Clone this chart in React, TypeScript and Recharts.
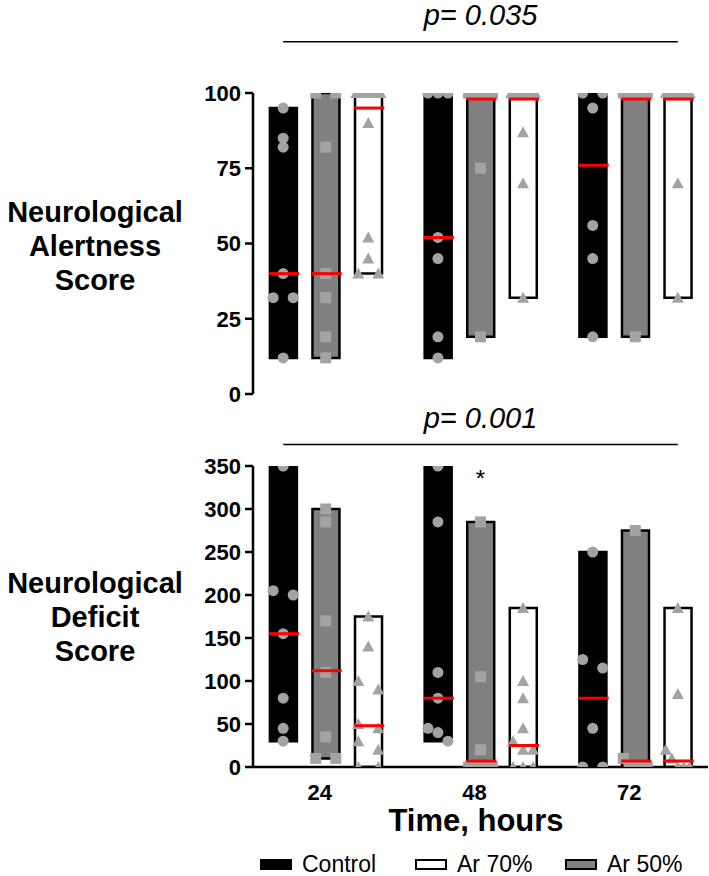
import {
  Bar,
  Cell,
  ComposedChart,
  ReferenceDot,
  ReferenceLine,
  Scatter,
  XAxis,
  YAxis,
} from 'recharts';

const hours = ['24', '48', '72'];
const groupNames = ['Control', 'Ar 50%', 'Ar 70%'];

// Neurological Alertness Score: individual animals per time point
const alertControl = [
  [95, 85, 82, 40, 32, 32, 12],
  [100, 100, 100, 52, 45, 19, 12],
  [100, 100, 95, 56, 45, 19],
];
const alertAr50 = [
  [100, 100, 82, 40, 32, 19, 12],
  [100, 100, 100, 100, 100, 75, 19],
  [100, 100, 100, 100, 100, 19],
];
const alertAr70 = [
  [100, 100, 100, 100, 100, 90, 52, 45, 40, 40],
  [100, 100, 100, 100, 100, 87, 70, 32],
  [100, 100, 100, 100, 100, 70, 32],
];
const alertMedControl = [40, 52, 76];
const alertMedAr50 = [40, 98, 98];
const alertMedAr70 = [95, 98, 98];
const alertTicks = [0, 25, 50, 75, 100];

// Neurological Deficit Score
const deficitControl = [
  [350, 205, 200, 155, 80, 45, 30],
  [350, 285, 110, 80, 45, 40, 30],
  [250, 125, 115, 45, 0, 0],
];
const deficitAr50 = [
  [300, 285, 170, 110, 35, 10, 10],
  [285, 105, 20, 0, 0, 0, 0],
  [275, 10, 0, 0, 0, 0],
];
const deficitAr70 = [
  [175, 140, 100, 90, 50, 45, 30, 20, 0, 0],
  [185, 100, 80, 45, 30, 20, 20, 0, 0, 0],
  [185, 85, 20, 10, 0, 0, 0],
];
const deficitMedControl = [155, 80, 80];
const deficitMedAr50 = [112, 7, 7];
const deficitMedAr70 = [48, 25, 7];
const deficitTicks = [0, 50, 100, 150, 200, 250, 300, 350];

const FONT = '"Liberation Sans", Arial, Helvetica, sans-serif';
const POINT = '#a3a3a3';
const GROUP_FILL = ['#000000', '#808080', '#ffffff'];
const GROUP_SHIFT = [-0.275, 0, 0.275];
const X_DOMAIN: [number, number] = [-0.47, 2.47];
const PLOT_H = 301;

// spread points that would overlap across the bar width, like a prism scatter
function spreadPoints(values: number[], pxPerUnit: number) {
  const sorted = [...values].sort((a, b) => b - a);
  const clusters: number[][] = [];
  sorted.forEach((v) => {
    const last = clusters[clusters.length - 1];
    if (last && (last[last.length - 1] - v) * pxPerUnit < 8.8) last.push(v);
    else clusters.push([v]);
  });
  const out: { y: number; dx: number }[] = [];
  clusters.forEach((c) => {
    const n = c.length;
    const half = n === 1 ? 0 : n <= 3 ? 10 : 12;
    c.forEach((v, k) => {
      out.push({ y: v, dx: n === 1 ? 0 : -half + (2 * half * k) / (n - 1) });
    });
  });
  return out;
}

function Dot(props: any) {
  const { cx, cy, payload } = props;
  if (cx == null || cy == null) return null;
  return <circle cx={cx + payload.dx} cy={cy} r={5.5} fill={POINT} />;
}

function Square(props: any) {
  const { cx, cy, payload } = props;
  if (cx == null || cy == null) return null;
  return <rect x={cx + payload.dx - 5.5} y={cy - 5.5} width={11} height={11} fill={POINT} />;
}

function Triangle(props: any) {
  const { cx, cy, payload } = props;
  if (cx == null || cy == null) return null;
  const x = cx + payload.dx;
  return <polygon points={`${x - 6},${cy + 5} ${x + 6},${cy + 5} ${x},${cy - 6}`} fill={POINT} />;
}

function MedianLine(props: any) {
  const { cx, cy } = props;
  if (cx == null || cy == null) return null;
  return <line x1={cx - 14} x2={cx + 16} y1={cy} y2={cy} stroke="#ff0000" strokeWidth={3} />;
}

const shapes = [Dot, Square, Triangle];

const tickStyle = { fontSize: 22, fontWeight: 700, fill: '#000', fontFamily: FONT };

function ScorePanel({
  series,
  medians,
  yMax,
  ticks,
  pText,
  pLevel,
  showX,
  marginTop,
  marginBottom,
  height,
  star,
}: {
  series: number[][][];
  medians: number[][];
  yMax: number;
  ticks: number[];
  pText: string;
  pLevel: number;
  showX: boolean;
  marginTop: number;
  marginBottom: number;
  height: number;
  star?: { x: number; y: number };
}) {
  const pxPerUnit = PLOT_H / yMax;
  const bars: { x: number; range: [number, number]; g: number }[] = [];
  hours.forEach((_, i) => {
    series.forEach((groupVals, g) => {
      const vals = groupVals[i];
      bars.push({ x: i + GROUP_SHIFT[g], range: [Math.min(...vals), Math.max(...vals)], g });
    });
  });
  const points = series.map((groupVals, g) =>
    groupVals.flatMap((vals, i) =>
      spreadPoints(vals, pxPerUnit).map((p) => ({ x: i + GROUP_SHIFT[g], y: p.y, dx: p.dx })),
    ),
  );
  const medianData = medians.flatMap((m, g) => m.map((v, i) => ({ x: i + GROUP_SHIFT[g], y: v })));

  return (
    <ComposedChart
      width={709}
      height={height}
      data={bars}
      margin={{ top: marginTop, right: 1, bottom: marginBottom, left: 193 }}
    >
      <XAxis
        type="number"
        dataKey="x"
        domain={X_DOMAIN}
        allowDataOverflow
        ticks={[0, 1, 2]}
        tickFormatter={(v) => hours[Math.round(v)]}
        hide={!showX}
        height={30}
        axisLine={{ stroke: '#000', strokeWidth: 2.5 }}
        tickLine={false}
        tickMargin={11}
        tick={tickStyle}
        dx={-6}
      />
      <YAxis
        type="number"
        domain={[0, yMax]}
        allowDataOverflow
        ticks={ticks}
        interval={0}
        width={60}
        axisLine={{ stroke: '#000', strokeWidth: 2.5 }}
        tickLine={{ stroke: '#000', strokeWidth: 2.5 }}
        tickSize={8}
        tickMargin={4}
        tick={tickStyle}
      />
      <Bar dataKey="range" barSize={27} isAnimationActive={false} stroke="#000" strokeWidth={2.5}>
        {bars.map((b, i) => (
          <Cell key={i} fill={GROUP_FILL[b.g]} />
        ))}
      </Bar>
      {points.map((pts, g) => (
        <Scatter
          key={groupNames[g]}
          name={groupNames[g]}
          data={pts}
          dataKey="y"
          shape={shapes[g]}
          isAnimationActive={false}
        />
      ))}
      <Scatter data={medianData} dataKey="y" shape={MedianLine} isAnimationActive={false} />
      <ReferenceLine
        segment={[
          { x: GROUP_SHIFT[0], y: pLevel },
          { x: 2 + GROUP_SHIFT[2], y: pLevel },
        ]}
        stroke="#000"
        strokeWidth={1.5}
        ifOverflow="visible"
        label={{
          value: pText,
          position: 'top',
          offset: 17,
          fontSize: 29,
          fontStyle: 'italic',
          fill: '#000',
          fontFamily: FONT,
        }}
      />
      {star && (
        <ReferenceDot
          x={star.x}
          y={star.y}
          r={0}
          ifOverflow="visible"
          label={{ value: '*', position: 'center', fontSize: 24, fill: '#000', fontFamily: FONT }}
        />
      )}
    </ComposedChart>
  );
}

const titleStyle: React.CSSProperties = {
  position: 'absolute',
  left: 0,
  width: 190,
  textAlign: 'center',
  fontFamily: FONT,
  fontWeight: 700,
  fontSize: 29,
  lineHeight: '34px',
  color: '#000',
};

const legendItems = [
  { name: 'Control', fill: '#000000', left: 260 },
  { name: 'Ar 70%', fill: '#ffffff', left: 415 },
  { name: 'Ar 50%', fill: '#808080', left: 565 },
];

export default function App() {
  return (
    <div style={{ position: 'absolute', left: 0, top: 0, width: 709, height: 876, background: '#fff' }}>
      <div style={{ position: 'absolute', left: 0, top: 0 }}>
        <ScorePanel
          series={[alertControl, alertAr50, alertAr70]}
          medians={[alertMedControl, alertMedAr50, alertMedAr70]}
          yMax={100}
          ticks={alertTicks}
          pText="p= 0.035"
          pLevel={117}
          showX={false}
          marginTop={93}
          marginBottom={26}
          height={420}
        />
      </div>
      <div style={{ position: 'absolute', left: 0, top: 400 }}>
        <ScorePanel
          series={[deficitControl, deficitAr50, deficitAr70]}
          medians={[deficitMedControl, deficitMedAr50, deficitMedAr70]}
          yMax={350}
          ticks={deficitTicks}
          pText="p= 0.001"
          pLevel={375}
          showX
          marginTop={66}
          marginBottom={23}
          height={420}
          star={{ x: 1, y: 335 }}
        />
      </div>
      <div style={{ ...titleStyle, top: 195 }}>
        Neurological
        <br />
        Alertness
        <br />
        Score
      </div>
      <div style={{ ...titleStyle, top: 566 }}>
        Neurological
        <br />
        Deficit
        <br />
        Score
      </div>
      <div
        style={{
          position: 'absolute',
          left: 326,
          width: 300,
          top: 807,
          textAlign: 'center',
          fontFamily: FONT,
          fontWeight: 700,
          fontSize: 31,
          lineHeight: '28px',
        }}
      >
        Time, hours
      </div>
      {legendItems.map((it) => (
        <div
          key={it.name}
          style={{
            position: 'absolute',
            left: it.left,
            top: 852,
            height: 24,
            display: 'flex',
            alignItems: 'center',
            fontFamily: FONT,
            fontSize: 23,
            lineHeight: '24px',
          }}
        >
          <span
            style={{
              display: 'inline-block',
              width: 32,
              height: 11,
              boxSizing: 'border-box',
              background: it.fill,
              border: '2px solid #000',
              marginRight: 10,
            }}
          />
          {it.name}
        </div>
      ))}
    </div>
  );
}
